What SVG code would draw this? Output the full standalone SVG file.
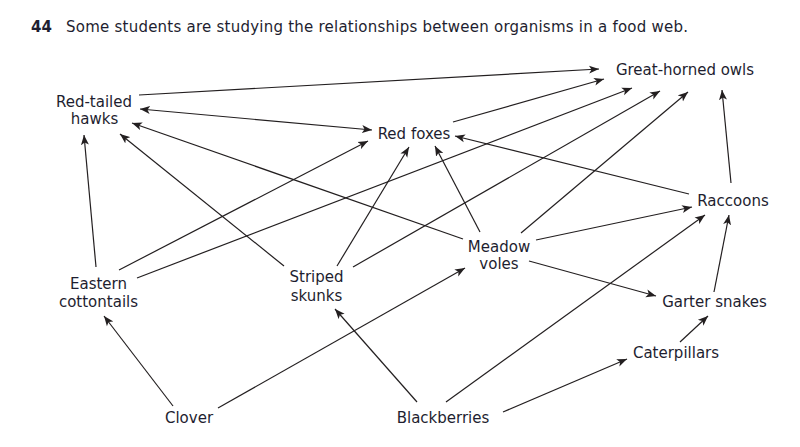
<svg xmlns="http://www.w3.org/2000/svg" width="800" height="447" viewBox="0 0 800 447">
<defs>
<marker id="ah" markerUnits="userSpaceOnUse" markerWidth="11" markerHeight="9" refX="10" refY="4" orient="auto-start-reverse" viewBox="0 0 11 8">
<path d="M0,0 L10,4 L0,8 L2.5,4 Z" fill="#231f20"/>
</marker>
<style>
text{font-family:"DejaVu Sans","Verdana",sans-serif;font-size:15px;fill:#1e1e30}
.n text{text-anchor:middle}
.c line{stroke:#231f20;stroke-width:1.2;marker-end:url(#ah)}
.t{font-size:15px}
</style>
</defs>
<rect width="800" height="447" fill="#fff"/>
<text x="31" y="32" font-weight="bold" class="t">44</text>
<text x="66" y="32" class="t" textLength="622">Some students are studying the relationships between organisms in a food web.</text>

<g class="c" id="connectors">
<line x1="139" y1="95" x2="599" y2="69"/>
<line x1="453" y1="122" x2="604" y2="79"/>
<line x1="137" y1="278" x2="632" y2="88"/>
<line x1="353" y1="267" x2="660" y2="91"/>
<line x1="521" y1="233" x2="688" y2="92"/>
<line x1="731" y1="183" x2="722" y2="90"/>
<line x1="140" y1="109" x2="372" y2="130" style="marker-start:url(#ah)"/>
<line x1="463" y1="239" x2="132" y2="123"/>
<line x1="284" y1="266" x2="120" y2="134"/>
<line x1="96" y1="267" x2="84" y2="135"/>
<line x1="119" y1="270" x2="368" y2="141"/>
<line x1="337" y1="266" x2="409" y2="147"/>
<line x1="480" y1="232" x2="435" y2="146"/>
<line x1="689" y1="194" x2="455" y2="136"/>
<line x1="536" y1="240" x2="692" y2="207"/>
<line x1="529" y1="261" x2="656" y2="296"/>
<line x1="714" y1="292" x2="729" y2="215"/>
<line x1="446" y1="402" x2="705" y2="215"/>
<line x1="680" y1="342" x2="708" y2="316"/>
<line x1="503" y1="412" x2="627" y2="359"/>
<line x1="417" y1="402" x2="335" y2="309"/>
<line x1="218" y1="408" x2="465" y2="268"/>
<line x1="173" y1="406" x2="104" y2="316"/>
</g>

<g class="n" id="hawks"><text x="94" y="107">Red-tailed</text><text x="94.5" y="124">hawks</text></g>
<g class="n" id="owls"><text x="685" y="75">Great-horned owls</text></g>
<g class="n" id="foxes"><text x="414" y="139">Red foxes</text></g>
<g class="n" id="raccoons"><text x="733" y="206">Raccoons</text></g>
<g class="n" id="voles"><text x="499" y="252">Meadow</text><text x="499" y="269">voles</text></g>
<g class="n" id="cottontails"><text x="98.5" y="289">Eastern</text><text x="98.5" y="307">cottontails</text></g>
<g class="n" id="skunks"><text x="316.5" y="282">Striped</text><text x="316.5" y="301">skunks</text></g>
<g class="n" id="snakes"><text x="714.5" y="307">Garter snakes</text></g>
<g class="n" id="caterpillars"><text x="676" y="358">Caterpillars</text></g>
<g class="n" id="clover"><text x="189" y="423">Clover</text></g>
<g class="n" id="blackberries"><text x="443" y="423">Blackberries</text></g>
</svg>
